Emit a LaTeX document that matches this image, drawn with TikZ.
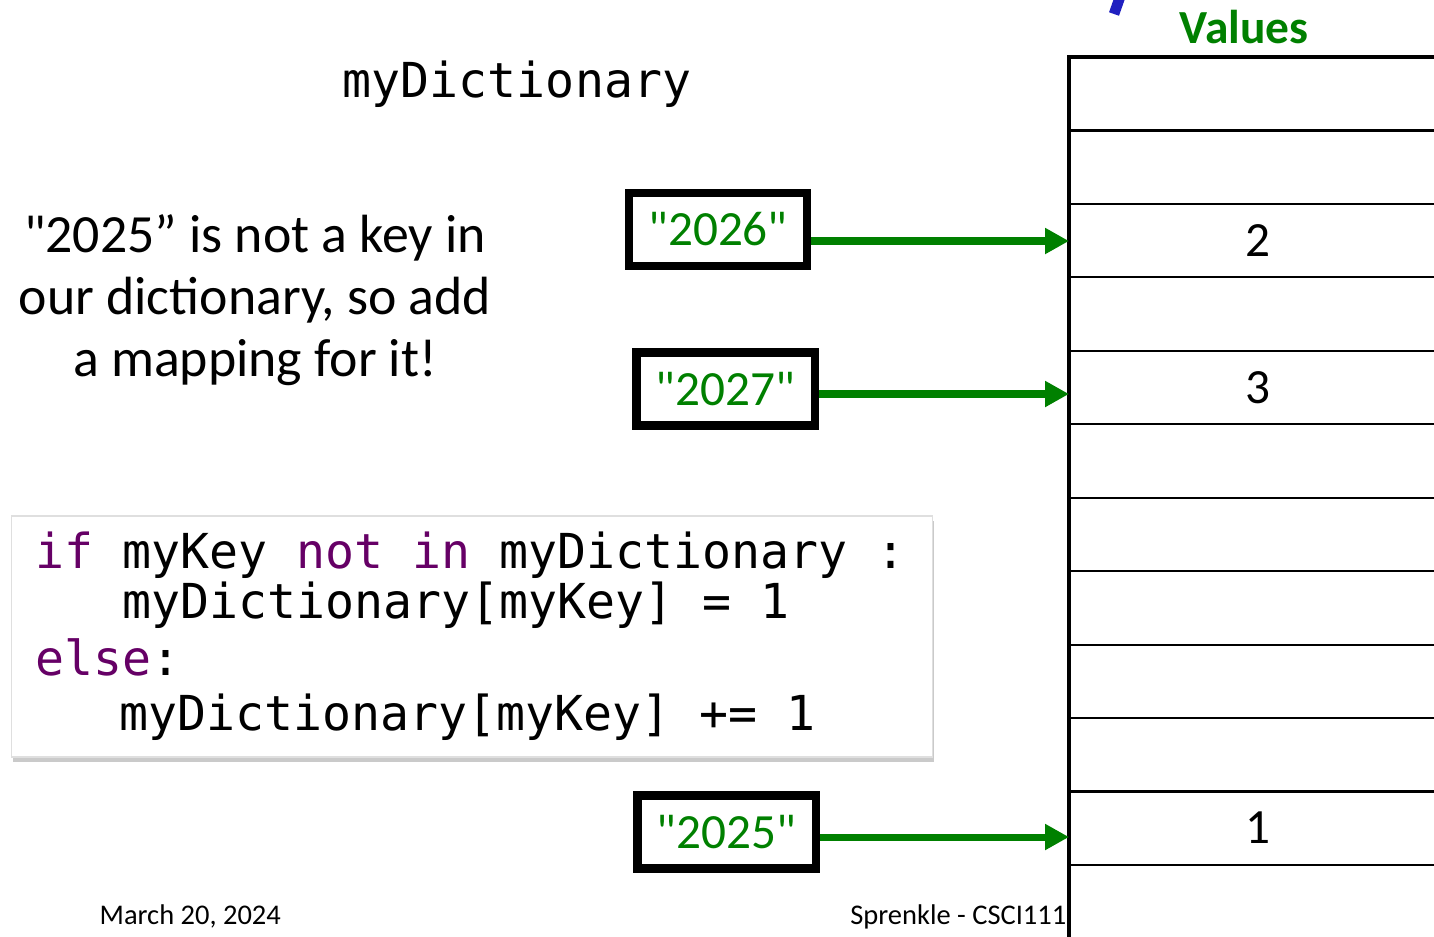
\documentclass[tikz,border=0pt]{standalone}
\usepackage{fontspec}
\setmainfont{Carlito}[Ligatures=TeXOff]
\newfontfamily\codefont{DejaVu Sans Mono}
\usetikzlibrary{arrows.meta, shadows}
\definecolor{keygreen}{RGB}{0,128,0}
\definecolor{kwpurple}{RGB}{102,0,102}
\definecolor{penblue}{RGB}{32,32,192}

\begin{document}
\begin{tikzpicture}[x=0.01cm, y=-0.01cm,
  keybox/.style = {draw, line width=2.3pt, minimum width=1.78cm, minimum height=0.73cm,
    inner sep=0pt, text=keygreen, font=\fontsize{14}{16}\selectfont},
  keyarrow/.style = {-{Triangle[length=6.8pt, width=7pt]}, keygreen, line width=2pt},
  cell/.style = {font=\fontsize{14}{16}\selectfont},
  code/.style = {anchor=base west, inner sep=0pt, font=\codefont\fontsize{13.7}{16}\selectfont},
  small/.style = {inner sep=0pt, font=\fontsize{8.1}{10}\selectfont}
]
\useasboundingbox (0,0) rectangle (1434,936);

% the table of values
\foreach \i in {1,...,11}
  \draw[line width=0.6pt] (1069,{57+73.45*\i}) -- (1434,{57+73.45*\i});
\draw[line width=1.4pt] (1434,57) -- (1069,57) -- (1069,940);
\draw[penblue, line width=3pt] (1120,-3) -- (1114,14);
\node[text=keygreen, font=\bfseries\fontsize{13.5}{16}\selectfont] (vals) at (1244,27) {Values};

\node[cell] (v2) at (1258,241) {2};
\node[cell] (v3) at (1258,388) {3};
\node[cell] (v1) at (1258,828) {1};
\coordinate (r2) at (1069,241);
\coordinate (r3) at (1069,394);
\coordinate (r1) at (1069,837);

% keys pointing into the table
\node[keybox] (k6) at (718,229.5) {"2026"};
\node[keybox] (k7) at (725.5,389) {"2027"};
\node[keybox] (k5) at (726.5,832) {"2025"};
\draw[keyarrow] (k6.east |- r2) -- (r2);
\draw[keyarrow] (k7.east |- r3) -- (r3);
\draw[keyarrow] (k5.east |- r1) -- (r1);

\node[code, anchor=base] (title) at (517,97) {myDictionary};
\node[align=center, font=\fontsize{15.3}{17.6}\selectfont] (note) at (255,300)
  {"2025” is not a key in\\our dictionary, so add\\a mapping for it!};

% the code snippet
\node[draw=gray!25, fill=white, minimum width=9.2cm, minimum height=2.41cm, inner sep=0pt,
  drop shadow={shadow xshift=0.4pt, shadow yshift=-1.4pt, fill=gray!70, opacity=0.6}]
  (snippet) at (472,636.5) {};
\node[code] (c1) at (35,568) {\textcolor{kwpurple}{if} myKey \textcolor{kwpurple}{not in} myDictionary :};
\node[code] (c2) at (122,618) {myDictionary[myKey] = 1};
\node[code] (c3) at (35,675) {\textcolor{kwpurple}{else}:};
\node[code] (c4) at (119,730) {myDictionary[myKey] += 1};

\node[small, anchor=base west] (date) at (99,924) {March 20, 2024};
\node[small, anchor=base east] (course) at (1067,924) {Sprenkle - CSCI111};
\end{tikzpicture}
\end{document}
